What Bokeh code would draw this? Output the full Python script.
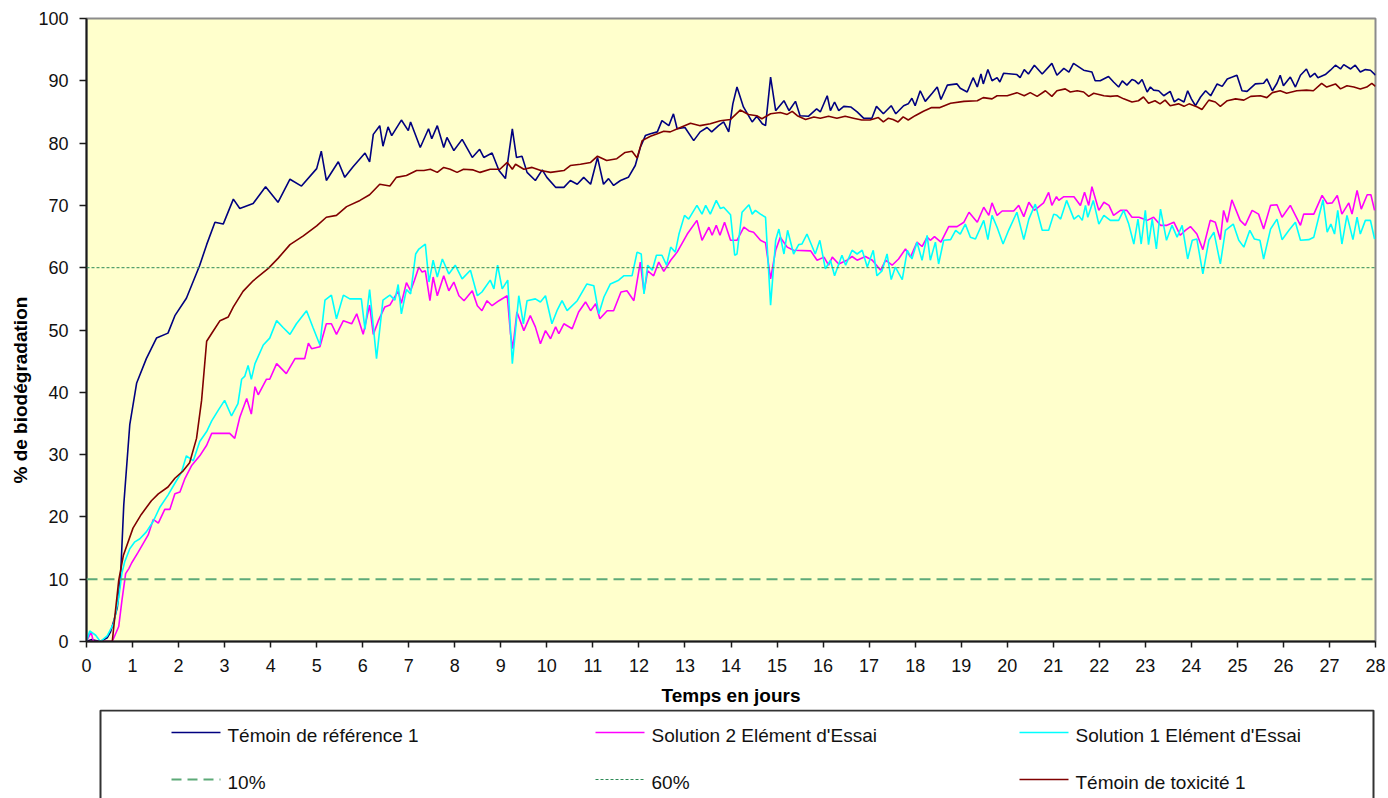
from bokeh.plotting import figure
from bokeh.models import Range1d, FixedTicker, Span, Title
from bokeh.layouts import column
from bokeh.core.properties import value
from bokeh.embed import file_html
from bokeh.resources import INLINE

FONT = "Liberation Sans"

# ---------------- data ----------------
ref_day = [0.00, 0.10, 0.30, 0.45, 0.52, 0.60, 0.67, 0.74, 0.81, 0.94, 1.09, 1.30, 1.52, 1.77, 1.92, 2.17, 2.46, 2.61, 2.79, 2.97,
           3.19, 3.33, 3.62, 3.89, 4.16, 4.42, 4.67, 5.00, 5.10, 5.21, 5.47, 5.61, 5.79, 6.05, 6.15, 6.23, 6.37, 6.44, 6.55, 6.63,
           6.84, 6.99, 7.04, 7.25, 7.43, 7.50, 7.62, 7.76, 7.83, 7.98, 8.16, 8.38, 8.54, 8.63, 8.81, 8.96, 9.10, 9.25, 9.34, 9.46,
           9.57, 9.75, 9.90, 10.00, 10.19, 10.37, 10.51, 10.66, 10.80, 10.95, 11.10, 11.23, 11.34, 11.45, 11.60, 11.77, 11.92, 12.03,
           12.14, 12.25, 12.40, 12.50, 12.65, 12.75, 12.83, 13.00, 13.19, 13.33, 13.48, 13.58, 13.73, 13.84, 13.95, 14.04, 14.13,
           14.27, 14.46, 14.56, 14.68, 14.75, 14.86, 14.97, 15.15, 15.26, 15.40, 15.50, 15.68, 15.86, 15.94, 16.09, 16.16, 16.25,
           16.34, 16.45, 16.60, 16.74, 16.88, 17.06, 17.16, 17.31, 17.48, 17.58, 17.75, 17.85, 17.93, 18.00, 18.11, 18.22, 18.37,
           18.48, 18.56, 18.70, 18.91, 18.98, 19.13, 19.26, 19.35, 19.43, 19.48, 19.58, 19.67, 19.78, 19.84, 19.92, 20.21, 20.28,
           20.37, 20.46, 20.59, 20.76, 20.97, 21.08, 21.23, 21.34, 21.44, 21.66, 21.84, 21.91, 22.02, 22.20, 22.31, 22.42, 22.50,
           22.60, 22.71, 22.78, 22.85, 22.93, 23.04, 23.11, 23.18, 23.29, 23.40, 23.54, 23.63, 23.72, 23.84, 23.92, 24.00, 24.09,
           24.20, 24.31, 24.42, 24.56, 24.67, 24.78, 24.89, 24.99, 25.10, 25.21, 25.39, 25.57, 25.64, 25.76, 25.86, 25.93, 26.00,
           26.15, 26.26, 26.37, 26.50, 26.58, 26.68, 26.75, 26.91, 27.02, 27.13, 27.24, 27.31, 27.46, 27.56, 27.67, 27.78, 27.89, 28.00]
ref_pct = [0.0, 0.3, 0.0, 0.6, 1.5, 3.5, 5.5, 10.5, 22.0, 34.8, 41.5, 45.4, 48.7, 49.5, 52.3, 55.1, 60.4, 63.7, 67.3, 67.0,
           71.0, 69.5, 70.3, 73.0, 70.5, 74.2, 73.1, 75.9, 78.7, 74.0, 77.0, 74.5, 76.2, 78.4, 77.0, 81.4, 82.8, 79.5, 82.6, 81.2,
           83.7, 82.0, 83.4, 79.3, 82.3, 80.7, 82.8, 79.3, 80.9, 78.8, 80.6, 77.7, 79.0, 77.7, 78.4, 75.6, 74.3, 82.3, 77.7, 77.9,
           75.3, 74.0, 75.7, 74.5, 72.9, 72.9, 74.0, 73.4, 74.5, 73.4, 77.7, 73.4, 74.3, 73.2, 74.0, 74.5, 76.4, 79.3,
           81.2, 81.5, 81.8, 83.6, 82.8, 84.7, 82.3, 82.5, 80.4, 81.8, 82.5, 81.8, 82.8, 83.4, 81.8, 86.3, 89.0,
           85.8, 83.4, 84.3, 83.1, 82.8, 90.6, 85.2, 86.8, 85.2, 86.7, 84.4, 84.3, 85.5, 85.0, 87.6, 85.2, 86.6,
           85.2, 85.9, 85.8, 85.0, 84.0, 84.0, 85.9, 84.7, 86.0, 84.7, 86.0, 86.3, 87.2, 86.0, 88.4, 86.7, 88.0,
           89.0, 87.0, 89.3, 89.5, 88.8, 88.2, 90.5, 89.0, 91.1, 89.5, 91.8, 90.0, 90.5, 89.8, 91.2, 91.0, 90.5,
           91.8, 91.1, 92.5, 91.1, 92.8, 90.9, 92.0, 91.4, 92.8, 91.7, 91.4, 90.0, 90.0, 90.7, 89.8, 89.0, 90.0,
           89.3, 90.2, 90.0, 89.5, 90.2, 88.2, 89.0, 88.5, 88.4, 87.6, 88.3, 86.6, 87.1, 86.6, 88.4, 87.1, 86.0,
           87.4, 88.4, 87.6, 89.5, 89.1, 90.3, 90.6, 90.9, 88.4, 88.3, 89.5, 89.6, 90.3, 88.4, 89.6, 90.9, 89.2,
           90.6, 89.0, 90.9, 91.9, 90.6, 91.2, 90.5, 91.0, 91.7, 92.5, 91.9, 92.6, 91.9, 92.5, 91.4, 91.8, 91.7, 90.9]

tox_day = [0.00, 0.30, 0.56, 0.63, 0.70, 0.80, 1.01, 1.19, 1.41, 1.56, 1.77, 1.92, 2.10, 2.24, 2.39, 2.50, 2.61, 2.75, 2.90, 3.08,
           3.19, 3.40, 3.62, 3.95, 4.16, 4.42, 4.71, 5.00, 5.21, 5.43, 5.65, 5.94, 6.15, 6.37, 6.59, 6.73, 6.95, 7.17, 7.33, 7.47,
           7.62, 7.76, 7.90, 8.05, 8.19, 8.40, 8.55, 8.77, 8.98, 9.14, 9.25, 9.32, 9.50, 9.68, 9.87, 10.08, 10.37, 10.51, 10.73,
           10.95, 11.10, 11.30, 11.52, 11.70, 11.85, 11.96, 12.07, 12.25, 12.40, 12.54, 12.68, 12.90, 13.12, 13.33, 13.55, 13.77,
           13.99, 14.20, 14.38, 14.56, 14.67, 14.86, 15.07, 15.22, 15.33, 15.44, 15.62, 15.80, 15.94, 16.12, 16.30, 16.48, 16.66,
           16.84, 17.02, 17.20, 17.31, 17.42, 17.52, 17.63, 17.74, 17.85, 18.00, 18.18, 18.36, 18.54, 18.77, 19.06, 19.35, 19.48,
           19.67, 19.78, 20.00, 20.21, 20.37, 20.50, 20.65, 20.83, 20.97, 21.08, 21.26, 21.37, 21.52, 21.66, 21.77, 21.88, 22.10,
           22.24, 22.39, 22.53, 22.71, 22.85, 22.96, 23.07, 23.21, 23.32, 23.43, 23.54, 23.72, 23.84, 23.95, 24.13, 24.23, 24.38,
           24.52, 24.63, 24.78, 24.96, 25.14, 25.29, 25.50, 25.64, 25.76, 25.93, 26.07, 26.29, 26.50, 26.65, 26.83, 26.94, 27.13,
           27.24, 27.38, 27.53, 27.67, 27.81, 27.92, 28.00]
tox_pct = [0.0, 0.0, 0.0, 5.0, 9.8, 13.8, 18.2, 20.4, 22.6, 23.7, 24.8, 26.2, 27.4, 28.7, 32.6, 38.7, 48.2, 49.8, 51.5, 52.1,
           53.7, 56.2, 57.9, 59.9, 61.5, 63.7, 65.1, 66.7, 68.1, 68.4, 69.8, 70.8, 71.7, 73.4, 73.1, 74.5, 74.8, 75.6, 75.6, 75.8,
           75.3, 76.1, 75.8, 75.3, 75.8, 75.7, 75.3, 75.8, 75.8, 76.9, 75.8, 76.6, 75.8, 76.1, 75.6, 75.3, 75.6, 76.4, 76.6,
           76.9, 77.9, 77.2, 77.5, 78.5, 78.7, 77.6, 80.4, 81.1, 81.5, 81.9, 81.8, 82.5, 83.2, 82.8, 83.1, 83.6,
           83.8, 85.3, 84.6, 84.4, 83.9, 84.7, 84.9, 84.6, 85.1, 84.4, 83.8, 84.2, 84.0, 84.3, 84.0, 84.3, 84.0,
           83.7, 83.7, 84.1, 83.4, 84.0, 83.8, 83.4, 84.2, 83.7, 84.4, 85.1, 85.7, 85.7, 86.4, 86.7, 86.8, 87.3,
           87.1, 87.6, 87.6, 88.1, 87.6, 88.1, 87.5, 88.4, 87.5, 88.4, 88.7, 88.2, 88.4, 88.2, 87.5, 88.0, 87.6,
           87.5, 87.6, 87.1, 86.6, 86.8, 87.4, 86.4, 86.8, 86.3, 86.9, 86.0, 86.3, 85.9, 86.3, 85.8, 85.4, 86.9,
           86.6, 85.9, 86.8, 87.1, 86.9, 87.5, 87.6, 87.3, 88.1, 88.4, 88.0, 88.4, 88.5, 88.4, 89.6, 89.0, 89.5,
           88.7, 89.2, 89.0, 88.7, 89.0, 89.6, 89.1]

s1_day = [0.00, 0.07, 0.20, 0.30, 0.45, 0.59, 0.70, 0.77, 0.83, 0.94, 1.05, 1.16, 1.30, 1.45, 1.59, 1.77, 1.92, 2.06, 2.17, 2.32,
          2.46, 2.61, 2.72, 2.86, 3.00, 3.15, 3.29, 3.37, 3.44, 3.51, 3.58, 3.66, 3.84, 3.98, 4.13, 4.27, 4.42, 4.56, 4.78, 4.92,
          5.07, 5.18, 5.32, 5.43, 5.58, 5.72, 5.97, 6.05, 6.15, 6.30, 6.44, 6.59, 6.70, 6.77, 6.84, 6.95, 7.04, 7.15, 7.22, 7.36,
          7.44, 7.53, 7.62, 7.73, 7.87, 8.01, 8.16, 8.34, 8.49, 8.59, 8.77, 8.85, 8.93, 9.03, 9.15, 9.25, 9.39, 9.49, 9.57, 9.75,
          9.86, 9.97, 10.11, 10.22, 10.33, 10.44, 10.66, 10.87, 11.02, 11.13, 11.24, 11.38, 11.56, 11.67, 11.85, 11.96, 12.05,
          12.11, 12.19, 12.29, 12.38, 12.50, 12.60, 12.69, 12.79, 12.87, 12.99, 13.08, 13.26, 13.37, 13.45, 13.55, 13.68, 13.77,
          13.84, 13.99, 14.08, 14.13, 14.24, 14.39, 14.46, 14.53, 14.64, 14.75, 14.86, 14.97, 15.04, 15.15, 15.23, 15.36, 15.47,
          15.54, 15.65, 15.83, 15.93, 16.05, 16.16, 16.25, 16.41, 16.49, 16.63, 16.74, 16.85, 16.96, 17.09, 17.17, 17.28, 17.39,
          17.48, 17.57, 17.72, 17.83, 17.93, 18.04, 18.15, 18.26, 18.33, 18.44, 18.51, 18.62, 18.77, 18.88, 18.98, 19.09, 19.20,
          19.31, 19.49, 19.58, 19.67, 19.78, 19.91, 20.03, 20.21, 20.36, 20.47, 20.61, 20.76, 20.90, 21.01, 21.08, 21.16, 21.29,
          21.45, 21.55, 21.63, 21.70, 21.75, 21.87, 21.99, 22.10, 22.24, 22.42, 22.53, 22.64, 22.75, 22.84, 22.91, 23.00, 23.07,
          23.15, 23.24, 23.33, 23.46, 23.58, 23.69, 23.80, 23.92, 24.02, 24.12, 24.25, 24.38, 24.49, 24.63, 24.74, 24.91, 25.03,
          25.14, 25.27, 25.37, 25.49, 25.57, 25.72, 25.86, 25.97, 26.12, 26.26, 26.37, 26.55, 26.66, 26.86, 26.95, 27.03, 27.11,
          27.18, 27.27, 27.38, 27.51, 27.60, 27.67, 27.78, 27.89, 27.98]
s1_pct = [0.0, 1.7, 1.0, 0.0, 0.9, 2.9, 7.0, 11.0, 12.8, 14.9, 16.0, 16.5, 17.6, 19.3, 21.5, 23.5, 25.4, 27.1, 29.8, 29.0,
          32.1, 33.7, 35.4, 37.1, 38.7, 36.2, 38.2, 42.1, 42.6, 44.3, 42.1, 44.6, 47.6, 48.7, 51.5, 50.4, 49.3, 51.0, 53.1, 50.4,
          47.6, 54.8, 55.6, 51.8, 55.6, 55.0, 55.0, 50.1, 56.5, 45.4, 54.8, 55.6, 54.8, 57.3, 52.6, 56.5, 55.8, 62.2, 63.0, 63.8,
          57.7, 61.2, 58.5, 61.4, 59.0, 60.4, 58.2, 59.6, 55.5, 56.1, 58.0, 56.6, 60.4, 56.6, 58.0, 44.6, 55.5, 51.0, 54.7, 55.0,
          54.5, 55.5, 51.0, 53.1, 54.7, 53.1, 54.7, 57.4, 57.1, 52.6, 55.3, 57.4, 58.0, 58.7, 58.7, 62.5, 62.2,
          55.8, 60.4, 59.6, 62.0, 62.0, 60.4, 63.3, 62.5, 65.4, 68.4, 67.8, 70.0, 68.6, 70.0, 68.6, 70.8, 69.5,
          69.7, 68.5, 62.0, 62.2, 68.9, 70.1, 68.6, 69.2, 68.6, 68.1, 54.0, 64.4, 66.2, 62.2, 66.0, 62.2, 63.7,
          63.8, 65.4, 62.2, 64.4, 59.8, 61.2, 58.7, 62.0, 60.4, 62.8, 62.2, 62.8, 60.1, 62.8, 58.7, 59.5, 62.2,
          58.1, 60.1, 58.1, 62.8, 61.4, 64.1, 61.2, 65.2, 61.2, 64.1, 60.6, 64.4, 64.5, 66.0, 65.4, 67.0, 64.9,
          64.6, 67.6, 64.5, 68.4, 66.5, 63.8, 66.0, 68.9, 64.5, 67.8, 70.2, 66.0, 66.0, 68.6, 68.4, 67.8, 70.8,
          67.8, 68.4, 67.6, 70.0, 68.1, 70.8, 67.0, 68.4, 67.6, 67.6, 69.2, 67.0, 63.8, 67.8, 63.8, 69.2, 63.7,
          67.8, 63.0, 69.4, 64.4, 66.8, 64.9, 66.8, 61.4, 64.4, 64.6, 59.0, 64.4, 65.7, 60.6, 66.0, 67.0, 64.4,
          63.3, 66.0, 64.6, 64.4, 61.4, 66.2, 67.8, 64.5, 66.0, 67.3, 64.4, 64.5, 64.9, 70.9, 65.7, 67.0, 65.4,
          69.2, 63.8, 68.4, 64.5, 68.1, 65.4, 67.6, 67.6, 64.6]

s2_day = [0.00, 0.10, 0.15, 0.56, 0.70, 0.77, 0.85, 0.92, 0.98, 1.12, 1.23, 1.34, 1.45, 1.56, 1.70, 1.81, 1.92, 2.03, 2.14, 2.28,
          2.46, 2.61, 2.72, 2.90, 3.11, 3.22, 3.33, 3.48, 3.58, 3.66, 3.73, 3.91, 3.98, 4.13, 4.34, 4.53, 4.74, 4.82, 4.89, 5.07,
          5.21, 5.32, 5.43, 5.58, 5.76, 5.87, 6.01, 6.15, 6.23, 6.34, 6.48, 6.59, 6.70, 6.77, 6.84, 6.95, 7.04, 7.12, 7.22, 7.29,
          7.36, 7.46, 7.53, 7.62, 7.76, 7.87, 7.98, 8.09, 8.20, 8.38, 8.49, 8.59, 8.70, 8.81, 8.96, 9.14, 9.21, 9.26, 9.35, 9.50,
          9.64, 9.75, 9.86, 9.97, 10.08, 10.19, 10.26, 10.37, 10.55, 10.69, 10.84, 10.95, 11.06, 11.15, 11.31, 11.45, 11.61,
          11.74, 11.89, 12.03, 12.11, 12.19, 12.32, 12.43, 12.54, 12.69, 12.83, 13.05, 13.26, 13.37, 13.52, 13.59, 13.68, 13.76,
          13.86, 13.99, 14.13, 14.28, 14.39, 14.49, 14.64, 14.75, 14.86, 14.97, 15.07, 15.22, 15.36, 15.73, 15.87, 16.02, 16.12,
          16.20, 16.34, 16.52, 16.63, 16.74, 16.92, 17.07, 17.25, 17.36, 17.50, 17.64, 17.79, 17.90, 18.04, 18.15, 18.26, 18.33,
          18.42, 18.56, 18.73, 18.91, 19.06, 19.17, 19.35, 19.49, 19.60, 19.67, 19.78, 19.89, 20.14, 20.25, 20.36, 20.47, 20.59,
          20.79, 20.90, 20.97, 21.07, 21.12, 21.23, 21.45, 21.59, 21.68, 21.77, 21.84, 21.99, 22.10, 22.21, 22.31, 22.46, 22.60,
          22.71, 22.86, 23.04, 23.18, 23.33, 23.47, 23.62, 23.76, 23.87, 23.98, 24.12, 24.25, 24.41, 24.52, 24.63, 24.70, 24.78,
          24.88, 25.06, 25.17, 25.32, 25.46, 25.57, 25.72, 25.86, 25.97, 26.15, 26.26, 26.37, 26.44, 26.66, 26.84, 26.95, 27.06,
          27.17, 27.27, 27.42, 27.49, 27.60, 27.69, 27.82, 27.90, 27.98]
s2_pct = [0.0, 1.5, 0.0, 0.0, 2.4, 6.6, 10.9, 11.7, 12.6, 14.3, 15.7, 17.1, 19.6, 19.0, 21.2, 21.2, 23.7, 24.0, 26.2, 28.2,
          29.8, 31.5, 33.4, 33.4, 33.4, 32.6, 36.0, 39.0, 36.5, 40.9, 39.6, 42.1, 42.1, 44.6, 43.0, 45.4, 45.4, 47.9, 47.0, 47.3,
          51.0, 51.0, 49.3, 51.5, 51.0, 52.6, 49.3, 54.0, 49.3, 51.5, 53.7, 54.0, 55.4, 56.2, 54.3, 57.6, 56.3, 57.9, 60.1, 59.3,
          59.5, 54.7, 58.5, 55.5, 58.7, 56.3, 57.7, 55.5, 54.7, 56.3, 53.9, 53.1, 54.7, 53.9, 54.7, 55.5, 49.4, 47.0, 52.9, 49.9,
          52.3, 50.5, 47.8, 49.9, 48.6, 50.5, 49.4, 51.0, 50.2, 52.9, 54.5, 53.1, 54.2, 51.8, 53.1, 53.1, 56.1,
          56.3, 54.7, 60.9, 56.1, 59.5, 58.7, 60.9, 59.4, 61.2, 62.5, 65.4, 67.6, 64.4, 66.5, 65.2, 66.8, 65.2,
          67.3, 64.4, 64.4, 66.5, 65.9, 65.7, 64.4, 64.0, 58.2, 62.8, 64.9, 63.3, 62.8, 62.7, 61.2, 61.7, 60.4,
          61.7, 60.6, 61.2, 61.8, 61.2, 61.8, 61.2, 59.6, 61.2, 60.4, 61.4, 63.0, 61.7, 64.1, 63.4, 64.9, 64.4,
          65.0, 64.1, 66.6, 66.6, 67.3, 68.9, 67.3, 69.7, 68.4, 70.4, 68.4, 69.1, 69.1, 70.0, 68.2, 70.5, 69.2,
          70.4, 72.1, 70.0, 71.4, 70.8, 71.4, 71.4, 70.0, 72.1, 70.0, 73.0, 69.2, 70.5, 70.0, 68.4, 69.2, 69.2,
          68.1, 68.1, 67.6, 68.1, 66.8, 66.8, 67.3, 65.2, 66.0, 66.6, 65.4, 62.9, 67.6, 67.3, 64.5, 69.2, 67.3,
          70.9, 67.6, 66.8, 69.2, 68.6, 66.2, 70.0, 70.1, 68.1, 70.0, 68.4, 66.8, 68.6, 68.6, 71.6, 70.3, 70.4,
          71.6, 68.6, 70.4, 68.6, 72.4, 69.4, 71.7, 71.7, 69.2]

thresholds = [10, 60]
x_ticks = list(range(0, 29))
y_ticks = list(range(0, 101, 10))

series_names = ["Témoin de référence 1", "Solution 2 Elément d'Essai", "Solution 1 Elément d'Essai",
                "10%", "60%", "Témoin de toxicité 1"]

# ---------------- styles / layout ----------------
C_REF = "#000080"
C_S2 = "#FF00FF"
C_S1 = "#00FFFF"
C_10 = "#5DAA78"
C_60 = "#2E8B57"
C_TOX = "#800000"
LW = 1.6

LEFT, RIGHT, TOP = 86, 10, 18
FW, FH = 1289, 623
MAIN_BOTTOM = 68
MAIN_H = TOP + FH + MAIN_BOTTOM      # 709
PAGE_H = 798

# ---------------- main chart ----------------
p = figure(frame_width=FW, frame_height=FH,
           x_range=Range1d(0, 28), y_range=Range1d(0, 100),
           output_backend="svg", toolbar_location=None,
           min_border_left=LEFT, min_border_right=RIGHT, min_border_top=TOP,
           min_border_bottom=MAIN_BOTTOM,
           background_fill_color="#FFFFCC", border_fill_color="white")
p.grid.visible = False
p.outline_line_color = "#8C8C8C"
p.outline_line_width = 2

p.line(ref_day, ref_pct, line_color=C_REF, line_width=LW)
p.line(s2_day, s2_pct, line_color=C_S2, line_width=LW)
p.line(s1_day, s1_pct, line_color=C_S1, line_width=LW)
p.add_layout(Span(location=thresholds[0], dimension="width", line_color=C_10,
                  line_width=2, line_dash="11 6"))
p.add_layout(Span(location=thresholds[1], dimension="width", line_color=C_60,
                  line_width=1, line_dash="3 2"))
p.line(tox_day, tox_pct, line_color=C_TOX, line_width=LW)

for ax in (p.xaxis[0], p.yaxis[0]):
    ax.axis_line_color = "#1a1a1a"
    ax.axis_line_width = 2
    ax.major_tick_line_color = "#1a1a1a"
    ax.major_tick_line_width = 1.5
    ax.major_tick_in = 0
    ax.minor_tick_line_color = None
    ax.major_label_text_font = FONT
    ax.major_label_text_font_size = "18px"
    ax.major_label_text_color = "#111111"

p.xaxis.ticker = FixedTicker(ticks=x_ticks)
p.yaxis.ticker = FixedTicker(ticks=y_ticks)
p.xaxis.major_tick_out = 6
p.yaxis.major_tick_out = 7
p.xaxis.major_label_standoff = 11
p.yaxis.major_label_standoff = 11

p.xaxis.axis_label = "Temps en jours"
p.xaxis.axis_label_text_font = FONT
p.xaxis.axis_label_text_font_size = "19px"
p.xaxis.axis_label_text_font_style = "bold"
p.xaxis.axis_label_text_color = "black"
p.xaxis.axis_label_standoff = 10

ytitle = Title(text="% de biodégradation", align="left", offset=158,
               text_font=FONT, text_font_size="19px", text_font_style="bold",
               text_color="black", standoff=9)
p.add_layout(ytitle, "left")

# ---------------- legend strip (coordinates = page pixels) ----------------
lg = figure(frame_width=FW, frame_height=PAGE_H - MAIN_H,
            x_range=Range1d(LEFT, LEFT + FW), y_range=Range1d(PAGE_H, MAIN_H),
            output_backend="svg", toolbar_location=None,
            min_border_left=LEFT, min_border_right=RIGHT,
            min_border_top=0, min_border_bottom=0,
            background_fill_color="white", border_fill_color="white")
lg.axis.visible = False
lg.grid.visible = False
lg.outline_line_color = None

lg.quad(left=[100], right=[1373], top=[710], bottom=[830],
        fill_color=None, line_color="#333333", line_width=2)

col_line_x0 = [171, 595, 1019]
row_y = [732, 779]
text_row_y = [735, 782]
leg_colors = [C_REF, C_S2, C_S1, C_10, C_60, C_TOX]
leg_dash = ["solid", "solid", "solid", "10 6", "3 2", "solid"]
leg_width = [1.6, 1.6, 1.6, 2, 1, 1.6]
for i, name in enumerate(series_names):
    r, c = divmod(i, 3)
    x0 = col_line_x0[c]
    lg.line([x0, x0 + 49], [row_y[r], row_y[r]], line_color=leg_colors[i],
            line_width=leg_width[i], line_dash=leg_dash[i])
    lg.text(x=[x0 + 56], y=[text_row_y[r]], text=[name],
            text_font=value(FONT), text_font_size="19px",
            text_baseline="middle", text_align="left", text_color="#111111")

layout = column(p, lg)
open("out.html", "w").write(file_html(layout, INLINE))
